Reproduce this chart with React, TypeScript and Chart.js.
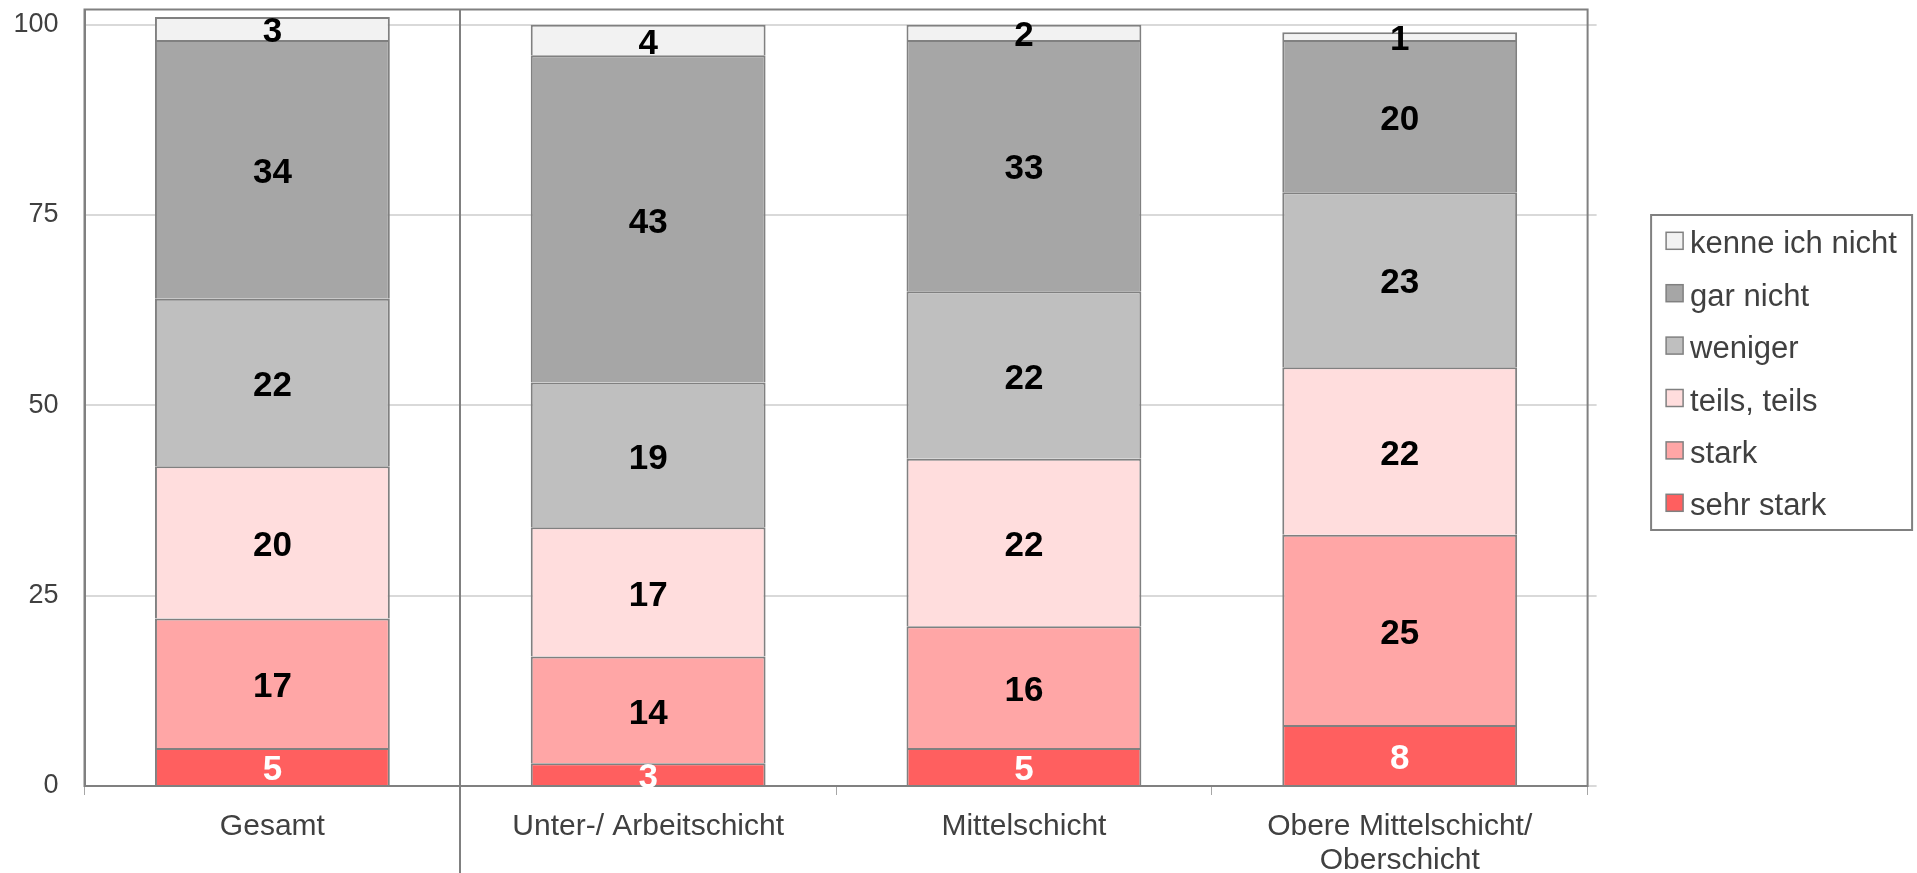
import React, { useEffect, useRef } from 'react';
import { Chart, registerables } from 'chart.js';

Chart.register(...registerables);

const categories: (string | string[])[] = [
  'Gesamt',
  'Unter-/ Arbeitschicht',
  'Mittelschicht',
  ['Obere Mittelschicht/', 'Oberschicht'],
];
const seriesNames = ['sehr stark', 'stark', 'teils, teils', 'weniger', 'gar nicht', 'kenne ich nicht'];
const sehrStark = [5, 3, 5, 8];
const stark = [17, 14, 16, 25];
const teilsTeils = [20, 17, 22, 22];
const weniger = [22, 19, 22, 23];
const garNicht = [34, 43, 33, 20];
const kenneIchNicht = [3, 4, 2, 1];
const seriesValues = [sehrStark, stark, teilsTeils, weniger, garNicht, kenneIchNicht];
const seriesColors = ['#ff5f5f', '#ffa6a6', '#ffdddd', '#bfbfbf', '#a6a6a6', '#f2f2f2'];
const valueLabelColors = ['#ffffff', '#000000', '#000000', '#000000', '#000000', '#000000'];
const yTickValues = [0, 25, 50, 75, 100];

const FONT = '"Liberation Sans", Arial, sans-serif';
const EDGE = '#808080';

const decorPlugin = {
  id: 'decor',
  afterDatasetsDraw(chart: any) {
    const ctx = chart.ctx as CanvasRenderingContext2D;
    const { left, right, top, bottom } = chart.chartArea;
    const xs = chart.scales.x;
    const ys = chart.scales.y;
    ctx.save();

    // gridline stubs past the right border
    ctx.strokeStyle = '#d9d9d9';
    ctx.lineWidth = 2;
    yTickValues.forEach((v) => {
      const py = Math.round(ys.getPixelForValue(v));
      ctx.beginPath();
      ctx.moveTo(right, py);
      ctx.lineTo(right + 9, py);
      ctx.stroke();
    });

    // plot box
    ctx.strokeStyle = EDGE;
    ctx.lineWidth = 2;
    ctx.strokeRect(left, top, right - left, bottom - top);

    // separator between first and second category
    const sepX = Math.round((xs.getPixelForValue(0) + xs.getPixelForValue(1)) / 2);
    ctx.beginPath();
    ctx.moveTo(sepX, top);
    ctx.lineTo(sepX, chart.height);
    ctx.stroke();

    // value labels
    ctx.font = `bold 35px ${FONT}`;
    ctx.textAlign = 'center';
    ctx.textBaseline = 'middle';
    chart.data.datasets.forEach((ds: any, di: number) => {
      const meta = chart.getDatasetMeta(di);
      meta.data.forEach((el: any, i: number) => {
        const p = el.getProps(['x', 'y', 'base'], true);
        ctx.fillStyle = valueLabelColors[di];
        ctx.fillText(String(ds.data[i]), p.x, (p.y + p.base) / 2 + 4);
      });
    });

    // legend
    const boxL = right + 63.5;
    const boxT = 215;
    const boxW = 261;
    const boxH = 315;
    ctx.strokeStyle = EDGE;
    ctx.lineWidth = 2;
    ctx.strokeRect(boxL, boxT, boxW, boxH);
    ctx.font = `31px ${FONT}`;
    ctx.textAlign = 'left';
    ctx.textBaseline = 'alphabetic';
    const n = chart.data.datasets.length;
    for (let k = 0; k < n; k++) {
      const di = n - 1 - k;
      const ds = chart.data.datasets[di];
      const base = 253.3 + k * 52.4;
      ctx.fillStyle = ds.backgroundColor;
      ctx.fillRect(boxL + 15, base - 21, 17, 17);
      ctx.strokeStyle = EDGE;
      ctx.lineWidth = 1.5;
      ctx.strokeRect(boxL + 15, base - 21, 17, 17);
      ctx.fillStyle = '#404040';
      ctx.fillText(ds.label, boxL + 39, base);
    }

    ctx.restore();
  },
};

export default function App() {
  const canvasRef = useRef<HTMLCanvasElement | null>(null);

  useEffect(() => {
    if (!canvasRef.current) return;
    Chart.defaults.font.family = FONT;
    const chart = new Chart(canvasRef.current, {
      type: 'bar',
      data: {
        labels: categories as any,
        datasets: seriesNames.map((name, i) => ({
          label: name,
          data: seriesValues[i],
          backgroundColor: seriesColors[i],
          borderColor: EDGE,
          borderWidth: 2,
          categoryPercentage: 1,
          barPercentage: 0.625,
        })),
      },
      options: {
        responsive: false,
        animation: false,
        devicePixelRatio: 1,
        layout: { padding: { top: 9.5, right: 329.4, left: 0, bottom: 0 } },
        plugins: {
          legend: { display: false },
          tooltip: { enabled: false },
        },
        scales: {
          x: {
            stacked: true,
            afterFit: (s: any) => {
              s.height = 87;
              s.paddingLeft = 0;
              s.paddingRight = 0;
            },
            grid: {
              display: true,
              drawOnChartArea: false,
              drawTicks: true,
              tickLength: 9,
              color: '#a6a6a6',
              lineWidth: 1,
              offset: true,
            },
            border: { display: true, color: EDGE, width: 2 },
            ticks: {
              color: '#404040',
              font: { size: 30, lineHeight: 1.15 },
              padding: 14,
              maxRotation: 0,
              autoSkip: false,
            },
          },
          y: {
            stacked: true,
            min: 0,
            max: 102,
            afterFit: (s: any) => {
              s.width = 84.5;
              s.paddingTop = 0;
              s.paddingBottom = 0;
            },
            afterBuildTicks: (s: any) => {
              s.ticks = yTickValues.map((v) => ({ value: v }));
            },
            grid: {
              color: '#d9d9d9',
              lineWidth: 2,
              drawTicks: false,
            },
            border: { display: true, color: EDGE, width: 2 },
            ticks: {
              color: '#404040',
              font: { size: 27 },
              padding: 26,
            },
          },
        },
      },
      plugins: [decorPlugin],
    });
    return () => chart.destroy();
  }, []);

  return (
    <div style={{ position: 'absolute', left: 0, top: 0, width: 1917, height: 873, background: '#fff' }}>
      <canvas ref={canvasRef} width={1917} height={873} />
    </div>
  );
}
